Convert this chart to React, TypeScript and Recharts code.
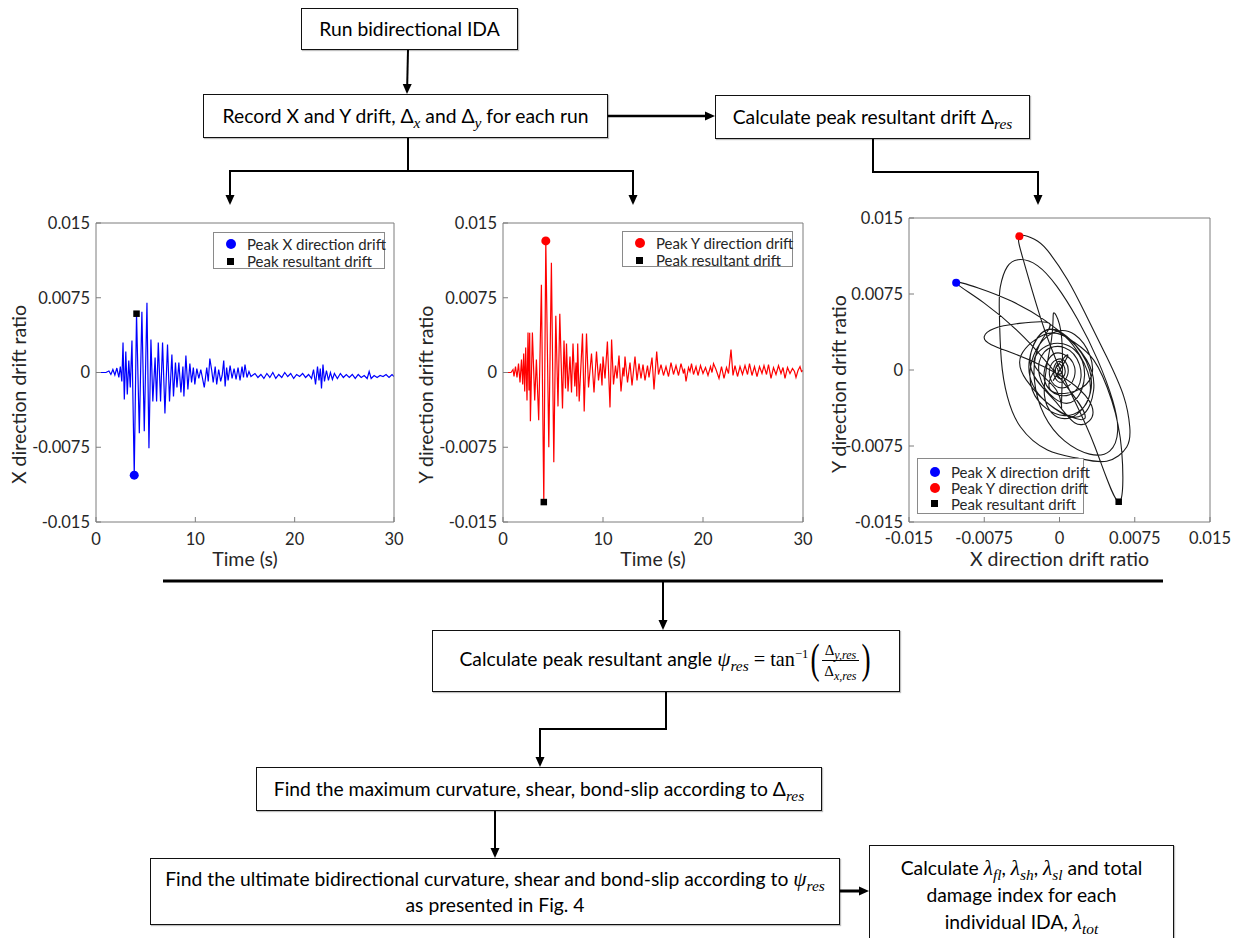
import React from 'react';
import { ComposedChart, Line, Scatter, XAxis, YAxis } from 'recharts';

const FONT = "Lato, 'Open Sans', sans-serif";
const MATH = "'Liberation Serif', 'DejaVu Serif', serif";
const AXIS_GREY = '#7d7d7d';
const TEXT_GREY = '#262626';

// ---------- data ----------
const driftTicks = [-0.015, -0.0075, 0, 0.0075, 0.015];
const timeTicks = [0, 10, 20, 30];

// X direction drift ratio time history [time (s), drift]
const xHistory: [number, number][] = [
  [0, 0], [1.0, 0], [1.3, 0.00015], [1.5, -0.0002], [1.7, 0.0003], [1.9, -0.00025], [2.1, 0.00045], [2.3, -0.0005],
  [2.45, 0.0006], [2.6, -0.0009], [2.72, 0.003], [2.85, -0.0027], [3.0, 0.0021], [3.15, -0.0022], [3.3, 0.0012],
  [3.45, -0.0015], [3.62, 0.0032], [3.85, -0.0103], [4.08, 0.0059], [4.36, -0.0061], [4.62, 0.0061], [4.86, -0.0059],
  [5.13, 0.007], [5.33, -0.0076], [5.53, 0.0033], [5.72, -0.0029], [5.95, 0.0015], [6.1, -0.0029], [6.27, 0.003],
  [6.5, -0.0029], [6.7, 0.003], [6.94, -0.0041], [7.2, 0.0028], [7.4, -0.0029], [7.64, 0.0018], [7.8, -0.0024],
  [8.0, 0.001], [8.15, -0.0015], [8.34, 0.001], [8.55, -0.002], [8.75, 0.0006], [8.85, -0.0024], [9.05, 0.0017],
  [9.25, -0.0017], [9.45, 0.0009], [9.62, -0.001], [9.8, 0.0005], [9.95, -0.0012], [10.15, 0.0004], [10.35, -0.0006],
  [10.55, 0.0003], [10.9, -0.0015], [11.15, 0.0005], [11.3, -0.0009], [11.46, 0.0014], [11.65, 0.0002], [11.8, -0.001],
  [12.0, 0.0006], [12.15, -0.0012], [12.35, 0.0003], [12.55, -0.0009], [12.7, -0.0003], [12.86, 0.0012], [13.0, -0.0014],
  [13.15, 0.0005], [13.3, -0.0008], [13.5, 0.0007], [13.7, -0.0006], [13.9, 0.0004], [14.1, -0.0007], [14.3, 0.0005],
  [14.5, -0.0008], [14.7, 0.0006], [14.85, -0.0005], [15.0, 0.0008], [15.2, -0.0005], [15.4, 0.0001], [15.6, -0.0004],
  [16.0, -0.0001], [16.3, -0.0005], [16.6, -0.0002], [16.9, -0.0006], [17.2, -0.0001], [17.5, -0.0005], [17.8, 0],
  [18.1, -0.0006], [18.4, -0.0002], [18.7, -0.0005], [19.0, 0], [19.3, -0.0004], [19.6, -0.0001], [19.9, -0.0006],
  [20.2, -0.0002], [20.5, -0.0004], [20.8, -0.0001], [21.1, -0.0005], [21.4, -0.0002], [21.7, -0.0006], [21.9, 0.0003],
  [22.1, -0.0012], [22.3, 0.0006], [22.45, -0.0008], [22.58, 0.0004], [22.7, -0.0016], [22.85, 0.0008], [23.0, -0.0009],
  [23.2, 0.0002], [23.4, -0.0008], [23.6, 0], [23.8, -0.0007], [24.0, -0.0001], [24.3, -0.0006], [24.6, -0.0001],
  [24.9, -0.0005], [25.2, -0.0002], [25.5, -0.0005], [25.8, -0.0002], [26.1, -0.0006], [26.4, -0.0002], [26.7, -0.0005],
  [27.0, -0.0003], [27.3, -0.0006], [27.5, 0.0001], [27.7, -0.0006], [28.0, -0.0003], [28.3, -0.0005], [28.6, -0.0003],
  [28.9, -0.0004], [29.2, -0.0002], [29.5, -0.0005], [29.8, -0.0002], [30, -0.0004],
];

// Y direction drift ratio time history [time (s), drift]
const yHistory: [number, number][] = [
  [0, 0], [0.8, 0], [1.0, 0.0003], [1.1, -0.0004], [1.25, 0.0006], [1.4, -0.0005], [1.55, 0.0009], [1.7, -0.001],
  [1.85, 0.0013], [1.97, -0.0012], [2.07, 0.0019], [2.17, -0.0019], [2.27, 0.0025], [2.4, -0.0028], [2.5, 0.004],
  [2.6, -0.0018], [2.67, 0.004], [2.74, -0.0049], [2.94, 0.004], [3.17, -0.0028], [3.34, 0.0013], [3.57, -0.0048],
  [3.84, 0.0088], [4.08, -0.013], [4.28, 0.0132], [4.58, -0.0075], [4.84, 0.011], [5.08, -0.009], [5.28, 0.0057],
  [5.5, -0.0034], [5.68, 0.0059], [5.95, -0.0036], [6.1, 0.0032], [6.25, -0.0016], [6.35, 0.0029], [6.5, -0.0019],
  [6.7, 0.0016], [6.85, -0.002], [7.0, 0.0029], [7.18, -0.0014], [7.3, 0.001], [7.38, -0.0024], [7.47, 0.0029],
  [7.62, -0.0029], [7.95, 0.0039], [8.12, -0.0039], [8.35, 0.0039], [8.55, -0.0015], [8.85, 0.0019], [9.1, -0.002],
  [9.35, 0.0021], [9.55, -0.0008], [9.75, 0.0009], [9.9, -0.0013], [10.0, 0.0016], [10.2, -0.0006], [10.44, 0.0031],
  [10.7, -0.0035], [10.86, 0.0033], [11.05, -0.0012], [11.25, 0.0007], [11.4, -0.0006], [11.6, 0.0017], [11.8, -0.0019],
  [12.0, 0.0005], [12.1, -0.0004], [12.2, 0.0016], [12.45, -0.001], [12.7, 0.001], [12.9, -0.0013], [13.2, 0.0016],
  [13.4, -0.0008], [13.6, 0.0009], [13.8, -0.0006], [14.0, 0.0008], [14.2, -0.0008], [14.45, 0.0007], [14.6, -0.0005],
  [14.9, 0.0015], [15.1, -0.0017], [15.37, 0.0021], [15.55, -0.0002], [15.8, 0.0008], [16.05, -0.0003], [16.3, 0.0006],
  [16.55, -0.0004], [16.8, 0.001], [17.05, -0.0002], [17.3, 0.0007], [17.55, -0.0003], [17.8, 0.0009], [18.05, -0.0001],
  [18.15, 0.0004], [18.3, -0.0009], [18.55, 0.0005], [18.7, 0.0001], [18.85, 0.0009], [19.05, -0.0002], [19.3, 0.0006],
  [19.5, -0.0003], [19.75, 0.0007], [20.0, -0.0001], [20.25, 0.0005], [20.5, -0.0003], [20.75, 0.0006], [20.9, 0],
  [21.05, 0.0009], [21.3, 0.0003], [21.6, -0.0006], [21.85, 0.0006], [22.1, -0.0006], [22.35, 0.0005], [22.55, -0.0001],
  [22.8, 0.0023], [23.0, -0.0003], [23.2, 0.0007], [23.45, -0.0004], [23.7, 0.0006], [23.95, -0.0002], [24.2, 0.0007],
  [24.45, -0.0002], [24.65, 0.0009], [24.9, -0.0003], [25.15, 0.0006], [25.4, -0.0004], [25.65, 0.0006], [25.9, -0.0001],
  [26.1, 0.0007], [26.35, -0.0002], [26.55, 0.0008], [26.8, -0.0006], [27.05, 0.0005], [27.3, -0.0002], [27.55, 0.0007],
  [27.8, -0.0001], [28.0, 0.0005], [28.2, -0.0006], [28.45, 0.0005], [28.7, -0.0001], [28.95, 0.0004], [29.15, 0.0001],
  [29.3, -0.0005], [29.5, 0.0002], [29.7, 0.0006], [29.85, 0.0001], [30, 0.0002],
];

// Drift orbit [X drift, Y drift]
const orbitPath: [number, number][] = [
  [0, 0], [0.0003, 0.0004], [-0.0003, -0.0005], [0.0005, 0.0008], [-0.0006, -0.001], [0.0008, 0.0015], [-0.001, -0.0018],
  [0.003, -0.001], [0.0015, 0.0035], [-0.002, 0.0025], [-0.0027, -0.002], [0.0005, -0.0045], [0.003, -0.0025],
  [0.002, 0.0015], [-0.001, 0.004], [-0.003, 0.001], [-0.0015, -0.003], [0.0025, -0.0048],
  [0.0002, -0.001], [-0.0035, 0.0032], [-0.0075, 0.0066], [-0.0103, 0.0086],
  [-0.0081, 0.0081], [-0.0048, 0.0068], [-0.0016, 0.005], [0.0011, 0.003], [0.0034, 0.001], [0.0052, -0.003],
  [0.0062, -0.008], [0.0059, -0.013],
  [0.0035, -0.0075], [0.001, -0.002], [-0.0015, 0.004], [-0.0035, 0.0105], [-0.004, 0.0132],
  [-0.0025, 0.0129], [-0.0012, 0.0118], [0.0008, 0.0089], [0.0027, 0.0053], [0.0047, 0.0013], [0.0064, -0.0026],
  [0.007, -0.0056], [0.0067, -0.0076], [0.0047, -0.009], [0.0018, -0.0087], [-0.0012, -0.0079], [-0.0039, -0.0056],
  [-0.0052, -0.0026], [-0.0058, 0.001], [-0.006, 0.0059], [-0.0059, 0.0082], [-0.0052, 0.0102], [-0.0039, 0.0109],
  [-0.0022, 0.0103], [-0.0003, 0.0083], [0.0018, 0.005], [0.0038, 0.001], [0.0053, -0.003], [0.0058, -0.006],
  [0.005, -0.008], [0.003, -0.0083], [0.0005, -0.007], [-0.0015, -0.0045], [-0.0025, -0.001], [-0.002, 0.0025],
  [-0.001, 0.0046], [-0.004, 0.0046], [-0.0065, 0.0041], [-0.0075, 0.0033], [-0.0068, 0.0025], [-0.0045, 0.0016],
  [-0.0015, 0.0003], [0.0015, -0.0015], [0.0032, -0.0035], [0.003, -0.005], [0.0015, -0.0052],
  [-0.0005, -0.003], [-0.0028, 0], [-0.0022, 0.0032], [0, 0.0038], [0.0027, 0.001], [0.0034, -0.002], [0.0022, -0.0045],
  [-0.0005, -0.0038], [-0.0033, -0.001], [-0.0038, 0.0015], [-0.0015, 0.0035], [0.001, 0.003], [0.003, 0],
  [0.0027, -0.0032], [0.0005, -0.0048], [-0.0015, -0.0025],
  [-0.0008, 0.003], [-0.0006, 0.0056], [0, 0.0045], [0.0003, 0.001], [0.0002, -0.0036], [-0.0003, -0.002],
  [-0.0025, 0.0005], [-0.001, 0.0025], [0.0015, 0.002], [0.0025, -0.0005], [0.0015, -0.003], [-0.0005, -0.0028],
  [-0.002, -0.0005], [-0.0015, 0.0018], [0.0005, 0.0022], [0.002, 0.0005], [0.0018, -0.0018], [0, -0.0025],
  [-0.0015, -0.001], [-0.001, 0.0012], [0.0003, 0.0016], [0.0015, 0.0003], [0.001, -0.0015], [-0.0005, -0.0015],
  [-0.001, 0], [-0.0003, 0.001], [0.0006, 0.0008], [0.0008, -0.0005], [0, -0.0012], [-0.0006, -0.0002],
  [-0.0002, 0.0008], [0.0004, 0.0005], [0.0005, -0.0005], [-0.0001, -0.0008], [-0.0004, 0.0001], [0, 0.0006],
  [0.0003, 0], [0, -0.0004], [-0.0002, 0.0002],
];

// Peak points [time, X drift, Y drift]
const peakXDrift = { t: 3.85, dx: -0.0103, dy: 0.0086 };
const peakYDrift = { t: 4.28, dx: -0.004, dy: 0.0132 };
const peakResultantDrift = { t: 4.08, dx: 0.0059, dy: -0.013 };

// ---------- helpers ----------
const xSeries = xHistory.map(([t, v]) => ({ t, v }));
const ySeries = yHistory.map(([t, v]) => ({ t, v }));
const orbitSeries = orbitPath.map(([dx, dy]) => ({ dx, dy }));

const fmtDrift = (v: number) => (v === 0 ? '0' : String(v));
const tickStyle = { fill: TEXT_GREY, fontSize: 16.5, fontFamily: FONT };
const axisLine = { stroke: AXIS_GREY, strokeWidth: 1 };

const VLabel = (props: any) => {
  const { viewBox, text, dx, dyOff } = props;
  const cx = viewBox.x + dx;
  const cy = viewBox.y + viewBox.height / 2 + dyOff;
  return (
    <text x={cx} y={cy} transform={`rotate(-90 ${cx} ${cy})`} textAnchor="middle" dominantBaseline="central"
      fill={TEXT_GREY} fontSize={19.5} fontFamily={FONT}>{text}</text>
  );
};
const HLabel = (props: any) => {
  const { viewBox, text, dy } = props;
  const cx = viewBox.x + viewBox.width / 2;
  const cy = viewBox.y + dy;
  return (
    <text x={cx} y={cy} textAnchor="middle" dominantBaseline="central" fill={TEXT_GREY} fontSize={19.5}
      fontFamily={FONT}>{text}</text>
  );
};

const dotShape = (color: string, r: number) => (p: any) => <circle cx={p.cx} cy={p.cy} r={r} fill={color} />;
const squareShape = (s: number) => (p: any) => <rect x={p.cx - s / 2} y={p.cy - s / 2} width={s} height={s} fill="#000" />;

function TimeChart(props: {
  left: number; rightMargin: number; data: { t: number; v: number }[]; color: string;
  peak: { t: number; v: number }; resultant: { t: number; v: number }; yLabel: string;
}) {
  const { left, rightMargin, data, color, peak, resultant, yLabel } = props;
  return (
    <div style={{ position: 'absolute', left, top: 200, width: 420, height: 380 }}>
      <ComposedChart width={420} height={380} margin={{ top: 22, right: rightMargin, left: 0, bottom: 0 }}>
        <XAxis type="number" dataKey="t" domain={[0, 30]} ticks={timeTicks} allowDataOverflow height={58}
          tickSize={-5} tickMargin={16} axisLine={axisLine} tickLine={axisLine} tick={tickStyle}
          label={<HLabel text="Time (s)" dy={36} />} />
        <XAxis xAxisId="top" orientation="top" type="number" domain={[0, 30]} ticks={timeTicks} allowDataOverflow
          height={1} tickSize={-5} tick={false} axisLine={axisLine} tickLine={axisLine} />
        <YAxis type="number" domain={[-0.015, 0.015]} ticks={driftTicks} allowDataOverflow width={96}
          tickSize={-5} tickMargin={11} axisLine={axisLine} tickLine={axisLine} tick={tickStyle}
          tickFormatter={fmtDrift} label={<VLabel text={yLabel} dx={18} dyOff={22} />} />
        <YAxis yAxisId="right" orientation="right" type="number" domain={[-0.015, 0.015]} ticks={driftTicks}
          allowDataOverflow width={1} tickSize={-5} tick={false} axisLine={axisLine} tickLine={axisLine} />
        <Line data={data} dataKey="v" type="linear" stroke={color} strokeWidth={1.2} dot={false}
          isAnimationActive={false} />
        <Scatter data={[peak]} dataKey="v" shape={dotShape(color, 4.5)} isAnimationActive={false} />
        <Scatter data={[resultant]} dataKey="v" shape={squareShape(6.5)} isAnimationActive={false} />
      </ComposedChart>
    </div>
  );
}

function OrbitChart() {
  return (
    <div style={{ position: 'absolute', left: 813, top: 195, width: 426, height: 385 }}>
      <ComposedChart width={426} height={385} margin={{ top: 22, right: 28, left: 0, bottom: 0 }}>
        <XAxis type="number" dataKey="dx" domain={[-0.015, 0.015]} ticks={driftTicks} allowDataOverflow height={58}
          tickSize={-5} tickMargin={15} axisLine={axisLine} tickLine={axisLine} tick={tickStyle}
          tickFormatter={fmtDrift} label={<HLabel text="X direction drift ratio" dy={36} />} />
        <XAxis xAxisId="top" orientation="top" type="number" domain={[-0.015, 0.015]} ticks={driftTicks}
          allowDataOverflow height={1} tickSize={-5} tick={false} axisLine={axisLine} tickLine={axisLine} />
        <YAxis type="number" domain={[-0.015, 0.015]} ticks={driftTicks} allowDataOverflow width={96}
          tickSize={-5} tickMargin={11} axisLine={axisLine} tickLine={axisLine} tick={tickStyle}
          tickFormatter={fmtDrift} label={<VLabel text="Y direction drift ratio" dx={25} dyOff={14} />} />
        <YAxis yAxisId="right" orientation="right" type="number" domain={[-0.015, 0.015]} ticks={driftTicks}
          allowDataOverflow width={1} tickSize={-5} tick={false} axisLine={axisLine} tickLine={axisLine} />
        <Line data={orbitSeries} dataKey="dy" type="natural" stroke="#1a1a1a" strokeWidth={1.1} dot={false}
          isAnimationActive={false} />
        <Scatter data={[peakXDrift]} dataKey="dy" shape={dotShape('#0000ff', 4)} isAnimationActive={false} />
        <Scatter data={[peakYDrift]} dataKey="dy" shape={dotShape('#ff0000', 4)} isAnimationActive={false} />
        <Scatter data={[peakResultantDrift]} dataKey="dy" shape={squareShape(6.5)} isAnimationActive={false} />
      </ComposedChart>
    </div>
  );
}

type LegendItem = { kind: 'dot' | 'square'; color: string; label: string };
function LegendBox(props: { left: number; top: number; width: number; height: number; rowTop: number; rowH: number; items: LegendItem[] }) {
  const { left, top, width, height, rowTop, rowH, items } = props;
  return (
    <div style={{ position: 'absolute', left, top, width, height, border: '1px solid #8a8a8a', background: '#fff',
      boxSizing: 'border-box', fontFamily: FONT, fontSize: 15, color: TEXT_GREY }}>
      {items.map((it, i) => (
        <div key={i} style={{ position: 'absolute', left: 0, top: rowTop + i * rowH, height: rowH, display: 'flex',
          alignItems: 'center', whiteSpace: 'nowrap' }}>
          <span style={{ width: 33, display: 'flex', justifyContent: 'center' }}>
            {it.kind === 'dot'
              ? <span style={{ width: 10, height: 10, borderRadius: 5, background: it.color, display: 'block' }} />
              : <span style={{ width: 7, height: 7, background: it.color, display: 'block' }} />}
          </span>
          <span>{it.label}</span>
        </div>
      ))}
    </div>
  );
}

// ---------- flowchart pieces ----------
const Sub = ({ children }: { children: React.ReactNode }) => (
  <sub style={{ fontFamily: MATH, fontStyle: 'italic', fontSize: '0.8em', verticalAlign: '-0.32em', lineHeight: 0 }}>{children}</sub>
);
const MI = ({ children }: { children: React.ReactNode }) => (
  <span style={{ fontFamily: MATH, fontStyle: 'italic', fontSize: '1.1em' }}>{children}</span>
);

function Box(props: { left: number; top: number; width: number; height: number; children: React.ReactNode; lineHeight?: number; padTop?: number }) {
  const { left, top, width, height, children, lineHeight = 1.28, padTop } = props;
  return (
    <div style={{ position: 'absolute', left, top, width, height, border: '1.6px solid #111', boxSizing: 'border-box',
      background: '#fff', display: 'flex', alignItems: padTop !== undefined ? 'flex-start' : 'center',
      justifyContent: 'center', textAlign: 'center' as const, paddingTop: padTop, fontFamily: FONT, fontSize: 19.3,
      lineHeight, color: '#000', boxShadow: '1px 1px 1px rgba(0,0,0,0.25)', whiteSpace: 'nowrap' }}>
      <div>{children}</div>
    </div>
  );
}

function Arrow({ x1, y1, x2, y2, w = 2 }: { x1: number; y1: number; x2: number; y2: number; w?: number }) {
  const dx = x2 - x1, dy = y2 - y1;
  const len = Math.hypot(dx, dy);
  const ux = dx / len, uy = dy / len;
  const hl = 10, hw = 4.5;
  const bx = x2 - ux * hl, by = y2 - uy * hl;
  const nx = -uy, ny = ux;
  return (
    <g>
      <line x1={x1} y1={y1} x2={bx + ux * 1} y2={by + uy * 1} stroke="#000" strokeWidth={w} />
      <polygon points={`${x2},${y2} ${bx + nx * hw},${by + ny * hw} ${bx - nx * hw},${by - ny * hw}`} fill="#000" />
    </g>
  );
}

function Fraction() {
  return (
    <span style={{ display: 'inline-flex', alignItems: 'center', verticalAlign: 'middle', fontFamily: MATH }}>
      <span style={{ fontSize: 42, lineHeight: 1, transform: 'scaleX(0.65)', display: 'inline-block', marginTop: -5 }}>(</span>
      <span style={{ display: 'inline-flex', flexDirection: 'column', alignItems: 'center', fontSize: 15, lineHeight: 1.12 }}>
        <span style={{ padding: '0 2px 1px' }}>Δ<Sub>y,res</Sub></span>
        <span style={{ borderTop: '1px solid #000', padding: '2px 2px 0' }}>Δ<Sub>x,res</Sub></span>
      </span>
      <span style={{ fontSize: 42, lineHeight: 1, transform: 'scaleX(0.65)', display: 'inline-block', marginTop: -5 }}>)</span>
    </span>
  );
}

export default function App() {
  return (
    <div style={{ position: 'absolute', left: 0, top: 0, width: 1239, height: 938, background: '#fff', overflow: 'hidden' }}>
      <svg width={1239} height={938} style={{ position: 'absolute', left: 0, top: 0 }}>
        <Arrow x1={408} y1={50} x2={407} y2={94} />
        <Arrow x1={608} y1={116} x2={715} y2={116} w={2.5} />
        <line x1={408} y1={138} x2={408} y2={171} stroke="#000" strokeWidth={2} />
        <line x1={229} y1={171} x2={634} y2={171} stroke="#000" strokeWidth={2} />
        <Arrow x1={230} y1={171} x2={230} y2={205} />
        <Arrow x1={633} y1={171} x2={633} y2={205} />
        <line x1={873} y1={139} x2={873} y2={172} stroke="#000" strokeWidth={2} />
        <line x1={872} y1={172} x2={1039} y2={172} stroke="#000" strokeWidth={2} />
        <Arrow x1={1038} y1={172} x2={1038} y2={205} />
        <line x1={163} y1={581} x2={1163} y2={581} stroke="#000" strokeWidth={3} />
        <Arrow x1={663} y1={581} x2={663} y2={630} />
        <line x1={666} y1={692} x2={666} y2={729} stroke="#000" strokeWidth={2} />
        <line x1={539} y1={729} x2={667} y2={729} stroke="#000" strokeWidth={2} />
        <Arrow x1={540} y1={729} x2={540} y2={767} />
        <Arrow x1={495} y1={811} x2={495} y2={858} />
        <Arrow x1={840} y1={891} x2={869} y2={891} w={3} />
      </svg>

      <Box left={301} top={8} width={217} height={42}>Run bidirectional IDA</Box>
      <Box left={203} top={94} width={405} height={44}>
        Record X and Y drift, Δ<Sub>x</Sub> and Δ<Sub>y</Sub> for each run
      </Box>
      <Box left={715} top={95} width={315} height={44}>
        Calculate peak resultant drift Δ<Sub>res</Sub>
      </Box>
      <Box left={432} top={630} width={468} height={62}>
        <span>
          Calculate peak resultant angle <MI>ψ</MI><Sub>res</Sub>
          <span style={{ fontFamily: MATH, fontSize: '1.05em' }}> = tan<sup style={{ fontSize: '0.62em' }}>−1</sup></span>
          <Fraction />
        </span>
      </Box>
      <Box left={256} top={767} width={566} height={44}>
        Find the maximum curvature, shear, bond-slip according to Δ<Sub>res</Sub>
      </Box>
      <Box left={150} top={858} width={690} height={67}>
        <span>
          Find the ultimate bidirectional curvature, shear and bond-slip according to <MI>ψ</MI><Sub>res</Sub>
          <br />as presented in Fig. 4
        </span>
      </Box>
      <Box left={869} top={845} width={305} height={115} lineHeight={1.34} padTop={8}>
        <span>
          Calculate <MI>λ</MI><Sub>fl</Sub>, <MI>λ</MI><Sub>sh</Sub>, <MI>λ</MI><Sub>sl</Sub> and total
          <br />damage index for each
          <br />individual IDA, <MI>λ</MI><Sub>tot</Sub>
        </span>
      </Box>

      <TimeChart left={0} rightMargin={25} data={xSeries} color="#0000ff"
        peak={{ t: peakXDrift.t, v: peakXDrift.dx }} resultant={{ t: peakResultantDrift.t, v: peakResultantDrift.dx }}
        yLabel="X direction drift ratio" />
      <TimeChart left={407} rightMargin={23} data={ySeries} color="#ff0000"
        peak={{ t: peakYDrift.t, v: peakYDrift.dy }} resultant={{ t: peakResultantDrift.t, v: peakResultantDrift.dy }}
        yLabel="Y direction drift ratio" />
      <OrbitChart />

      <LegendBox left={213} top={232} width={172} height={37} rowTop={2} rowH={17.5} items={[
        { kind: 'dot', color: '#0000ff', label: 'Peak X direction drift' },
        { kind: 'square', color: '#000', label: 'Peak resultant drift' },
      ]} />
      <LegendBox left={622} top={231} width={171} height={36} rowTop={2} rowH={17.5} items={[
        { kind: 'dot', color: '#ff0000', label: 'Peak Y direction drift' },
        { kind: 'square', color: '#000', label: 'Peak resultant drift' },
      ]} />
      <LegendBox left={917} top={458} width={167} height={56} rowTop={4.5} rowH={16} items={[
        { kind: 'dot', color: '#0000ff', label: 'Peak X direction drift' },
        { kind: 'dot', color: '#ff0000', label: 'Peak Y direction drift' },
        { kind: 'square', color: '#000', label: 'Peak resultant drift' },
      ]} />
    </div>
  );
}
